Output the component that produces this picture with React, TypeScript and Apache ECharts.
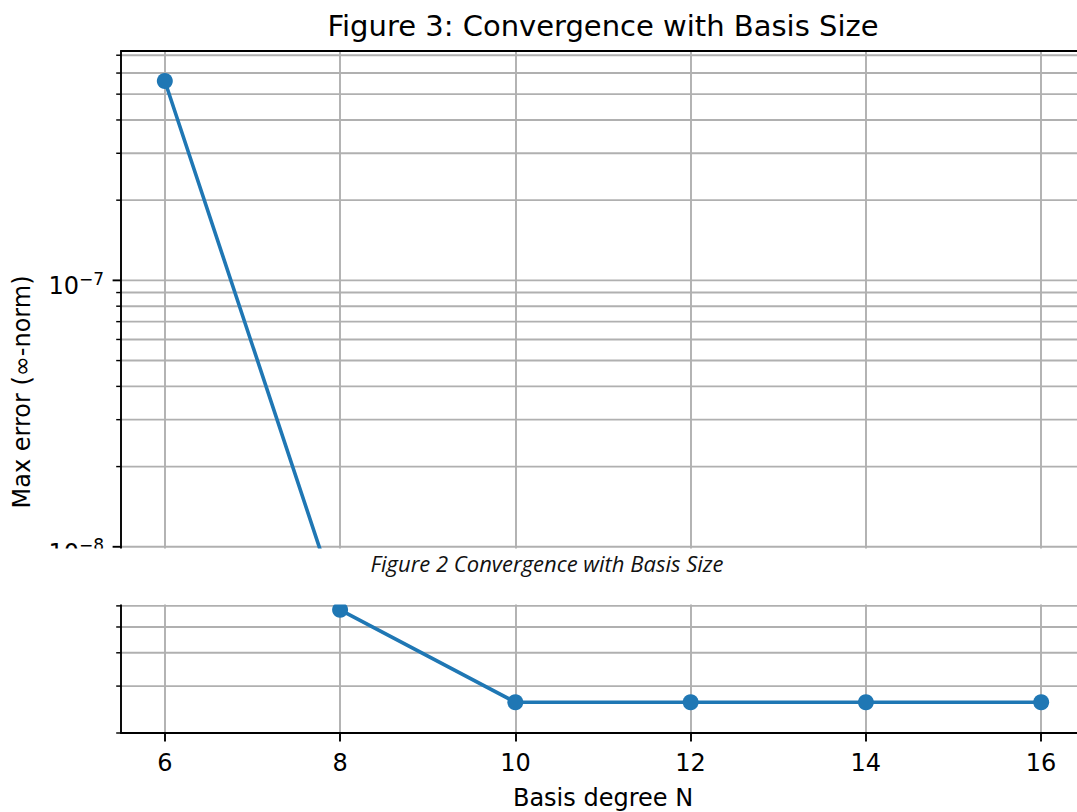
import React, { useEffect, useRef } from 'react';
import * as echarts from 'echarts';

const basisDegrees = [6, 8, 10, 12, 14, 16];
const maxErrors = [5.6e-7, 5.8e-9, 2.61e-9, 2.61e-9, 2.61e-9, 2.61e-9];
const xTicks = [6, 8, 10, 12, 14, 16];
const yMajorTicks = [1e-8, 1e-7];
const yMajorExponents = ['−8', '−7'];
const yMinorTicks = [
  2e-9, 3e-9, 4e-9, 5e-9, 6e-9, 7e-9, 8e-9, 9e-9,
  2e-8, 3e-8, 4e-8, 5e-8, 6e-8, 7e-8, 8e-8, 9e-8,
  2e-7, 3e-7, 4e-7, 5e-7, 6e-7, 7e-7,
];
const yMin = 2.0e-9;
const yMax = 7.26e-7;

const titleText = 'Figure 3: Convergence with Basis Size';
const captionText = 'Figure 2 Convergence with Basis Size';
const xLabel = 'Basis degree N';
const yLabel = 'Max error (∞-norm)';

const FONT = "'DejaVu Sans', sans-serif";

export default function App() {
  const ref = useRef<HTMLDivElement>(null);
  useEffect(() => {
    if (!ref.current) return;
    document.body.style.overflow = 'hidden';
    const chart = echarts.init(ref.current, undefined, { renderer: 'svg' });
    const gridData = [
      ...yMajorTicks.map((v) => [5.5, v, 1]),
      ...yMinorTicks.map((v) => [5.5, v, 0]),
    ];
    const option: any = {
      animation: false,
      backgroundColor: '#ffffff',
      grid: [
        { left: 121, top: 51, width: 964, height: 682, show: false, containLabel: false, outerBoundsMode: 'none' },
        { left: 165, top: 51, width: 876, height: 682, show: false, containLabel: false, outerBoundsMode: 'none' },
      ],
      xAxis: [
        {
          type: 'value', gridIndex: 0, min: 5.5, max: 16.5, position: 'bottom', z: 5,
          axisLine: { show: true, lineStyle: { color: '#000', width: 1.9 } },
          axisTick: { show: false }, axisLabel: { show: false }, splitLine: { show: false },
        },
        {
          type: 'value', gridIndex: 1, min: 6, max: 16, interval: 2, position: 'bottom',
          axisLine: { show: false },
          axisTick: { show: true, length: 8.4, lineStyle: { color: '#000', width: 1.9 } },
          axisLabel: {
            show: true, margin: 18, fontSize: 24, color: '#000', fontFamily: FONT,
            formatter: (v: number) => (xTicks.includes(v) ? String(v) : ''),
          },
          splitLine: { show: true, lineStyle: { color: '#b0b0b0', width: 1.9 } },
          name: xLabel, nameLocation: 'middle', nameGap: 53,
          nameTextStyle: { fontSize: 24, color: '#000', fontFamily: FONT },
        },
        {
          type: 'value', gridIndex: 0, min: 5.5, max: 16.5, position: 'top', z: 5,
          axisLine: { show: true, lineStyle: { color: '#000', width: 1.9 } },
          axisTick: { show: false }, axisLabel: { show: false }, splitLine: { show: false },
        },
      ],
      yAxis: [
        {
          type: 'log', logBase: 10, gridIndex: 0, min: yMin, max: yMax, z: 5,
          axisLine: { show: true, lineStyle: { color: '#000', width: 1.9 } },
          axisTick: { show: false }, splitLine: { show: false }, minorTick: { show: false },
          axisLabel: {
            show: true, margin: 17, padding: [8, 0, 0, 0],
            formatter: (v: number) => {
              const idx = yMajorTicks.findIndex((t) => Math.abs(Math.log10(v) - Math.log10(t)) < 1e-6);
              return idx >= 0 ? `{b|10}{s|${yMajorExponents[idx]}}` : '';
            },
            rich: {
              b: { fontSize: 24, fontFamily: FONT, color: '#000', lineHeight: 28, verticalAlign: 'bottom' },
              s: { fontSize: 17, fontFamily: FONT, color: '#000', lineHeight: 18, verticalAlign: 'top' },
            },
          },
          name: yLabel, nameLocation: 'middle', nameGap: 87,
          nameTextStyle: { fontSize: 24, color: '#000', fontFamily: FONT },
        },
        { type: 'log', logBase: 10, gridIndex: 1, min: yMin, max: yMax, show: false },
      ],
      series: [
        {
          type: 'custom', xAxisIndex: 0, yAxisIndex: 0, z: 1, clip: false, silent: true,
          encode: { x: 0, y: 1 },
          data: gridData,
          renderItem: (params: any, api: any) => {
            const cs = params.coordSys;
            const v = api.value(1);
            const major = api.value(2) === 1;
            const y = api.coord([6, v])[1];
            return {
              type: 'group',
              children: [
                {
                  type: 'line',
                  shape: { x1: cs.x, y1: y, x2: cs.x + cs.width, y2: y },
                  style: { stroke: '#b0b0b0', lineWidth: 1.9 },
                },
                {
                  type: 'line',
                  shape: { x1: cs.x - (major ? 8.4 : 4.8), y1: y, x2: cs.x, y2: y },
                  style: { stroke: '#000', lineWidth: major ? 1.9 : 1.44 },
                },
              ],
            };
          },
        },
        {
          type: 'line', xAxisIndex: 0, yAxisIndex: 0, z: 3, clip: false,
          data: basisDegrees.map((x, i) => [x, maxErrors[i]]),
          symbol: 'circle', symbolSize: 16, showSymbol: true,
          lineStyle: { color: '#1f77b4', width: 3.6 },
          itemStyle: { color: '#1f77b4' },
        },
      ],
      graphic: [
        {
          type: 'text', x: 603, y: 26, z: 100,
          style: {
            text: titleText, fontSize: 29, fontFamily: FONT, fill: '#000',
            textAlign: 'center', textVerticalAlign: 'middle',
          },
        },
        {
          type: 'rect', z: 100, shape: { x: 0, y: 548.5, width: 1100, height: 56 },
          style: { fill: '#ffffff' },
        },
        {
          type: 'text', x: 547, y: 563, z: 101,
          style: {
            text: captionText, fontSize: 22, fontStyle: 'italic', fontFamily: "'Open Sans', Lato, sans-serif",
            fill: '#111', textAlign: 'center', textVerticalAlign: 'middle',
          },
        },
      ],
    };
    chart.setOption(option);
    return () => chart.dispose();
  }, []);
  return <div ref={ref} style={{ position: 'fixed', left: 0, top: 0, width: 1093, height: 812 }} />;
}
